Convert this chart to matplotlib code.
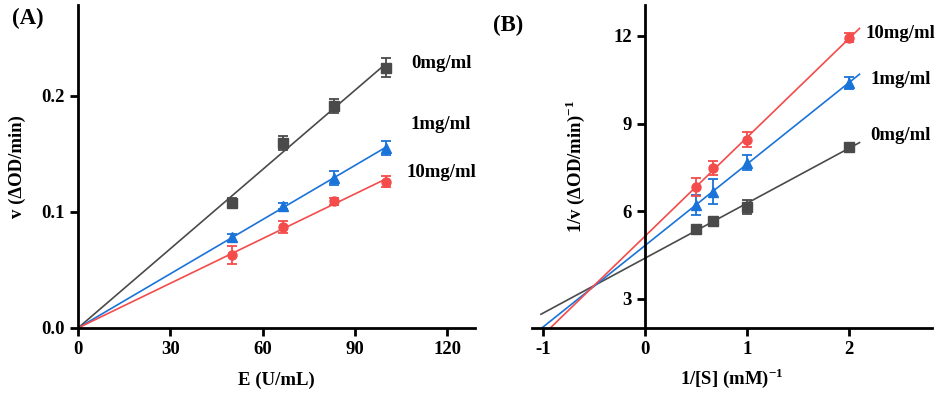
import numpy as np
import matplotlib.pyplot as plt

plt.rcParams['font.family'] = ['Liberation Serif', 'DejaVu Serif']
plt.rcParams['font.weight'] = 'bold'
plt.rcParams['mathtext.fontset'] = 'custom'
plt.rcParams['mathtext.rm'] = 'Liberation Serif:bold'
plt.rcParams['mathtext.bf'] = 'Liberation Serif:bold'
plt.rcParams['axes.unicode_minus'] = False

# (A) velocidad frente a concentracion de enzima
e_conc = [50, 66.7, 83.3, 100]
v_0 = [0.108, 0.159, 0.191, 0.224]
v_0_err = [0.004, 0.006, 0.006, 0.008]
v_1 = [0.078, 0.105, 0.129, 0.155]
v_1_err = [0.003, 0.003, 0.006, 0.006]
v_10 = [0.063, 0.087, 0.109, 0.126]
v_10_err = [0.008, 0.005, 0.003, 0.005]

# (B) Lineweaver-Burk
inv_s = [0.5, 0.667, 1.0, 2.0]
inv_v_0 = [5.40, 5.67, 6.15, 8.20]
inv_v_0_err = [0.1, 0.1, 0.25, 0.1]
inv_v_1 = [6.22, 6.66, 7.66, 10.40]
inv_v_1_err = [0.35, 0.43, 0.25, 0.2]
inv_v_10 = [6.83, 7.48, 8.45, 11.94]
inv_v_10_err = [0.3, 0.25, 0.25, 0.15]

etiquetas = ['0mg/ml', '1mg/ml', '10mg/ml']
colores = ['#4a4a4a', '#1a73d9', '#f44b4b']
marcadores = ['s', '^', 'o']

fig = plt.figure(figsize=(9.48, 3.96), dpi=100)
ax1 = fig.add_axes([78/948, 68/396, 397/948, 323/396])
ax2 = fig.add_axes([532/948, 68/396, 400/948, 323/396])

fs = 13.5

def estilo(ax):
    for s in ['top', 'right']:
        ax.spines[s].set_visible(False)
    for s in ['left', 'bottom']:
        ax.spines[s].set_linewidth(2)
    ax.tick_params(width=2, length=6, labelsize=fs)
    for t in ax.get_xticklabels() + ax.get_yticklabels():
        t.set_fontweight('bold')

# Panel A
series_a = [(v_0, v_0_err), (v_1, v_1_err), (v_10, v_10_err)]
for (y, err), c, m in zip(series_a, colores, marcadores):
    x = np.array(e_conc)
    y = np.array(y)
    pendiente = np.sum(x * y) / np.sum(x * x)
    xl = np.array([0, 100])
    ax1.plot(xl, pendiente * xl, color=c, lw=1.2, zorder=2)
    ax1.errorbar(x, y, yerr=err, fmt=m, color=c, ms=6.5, capsize=3.5,
                 elinewidth=1.3, capthick=1.3, zorder=3)

ax1.set_xlim(0, 129)
ax1.set_ylim(0, 0.278)
ax1.set_xticks([0, 30, 60, 90, 120])
ax1.set_yticks([0.0, 0.1, 0.2])
ax1.set_yticklabels(['0.0', '0.1', '0.2'])
estilo(ax1)
ax1.set_xlabel('E (U/mL)', fontsize=fs, fontweight='bold', labelpad=10)
ax1.set_ylabel('v (ΔOD/min)', fontsize=fs, fontweight='bold')
ax1.yaxis.set_label_coords((26 - 78) / 397, 0.5)
for txt, yy in zip(etiquetas, [0.228, 0.175, 0.134]):
    ax1.text(118, yy, txt, fontsize=fs, fontweight='bold', ha='center', va='center')
fig.text(12/948, 1 - 18/396, '(A)', fontsize=16.5, fontweight='bold', va='center')

# Panel B
series_b = [(inv_v_0, inv_v_0_err), (inv_v_1, inv_v_1_err), (inv_v_10, inv_v_10_err)]
for (y, err), c, m in zip(series_b, colores, marcadores):
    x = np.array(inv_s)
    y = np.array(y)
    p = np.polyfit(x, y, 1)
    xl = np.array([-1.02, 2.1])
    ax2.plot(xl, np.polyval(p, xl), color=c, lw=1.2, zorder=2)
    ax2.errorbar(x, y, yerr=err, fmt=m, color=c, ms=6.5, capsize=3.5,
                 elinewidth=1.3, capthick=1.3, zorder=3)

ax2.set_xlim(-1.108, 2.81)
ax2.set_ylim(2.0, 13.06)
ax2.spines['left'].set_position(('data', 0))
ax2.set_xticks([-1, 0, 1, 2])
ax2.set_yticks([3, 6, 9, 12])
estilo(ax2)
ax2.set_xlabel('1/[S] (mM)$^{-1}$', fontsize=fs, fontweight='bold', labelpad=6)
ax2.set_ylabel('1/v (ΔOD/min)$^{-1}$', fontsize=fs, fontweight='bold')
ax2.yaxis.set_label_coords((587 - 532) / 400, 0.5)
for txt, yy in zip(['10mg/ml', '1mg/ml', '0mg/ml'], [12.1, 10.5, 8.6]):
    ax2.text(2.5, yy, txt, fontsize=fs, fontweight='bold', ha='center', va='center')
fig.text(493/948, 1 - 25/396, '(B)', fontsize=16.5, fontweight='bold', va='center')

fig.savefig('out.png', dpi=100)
